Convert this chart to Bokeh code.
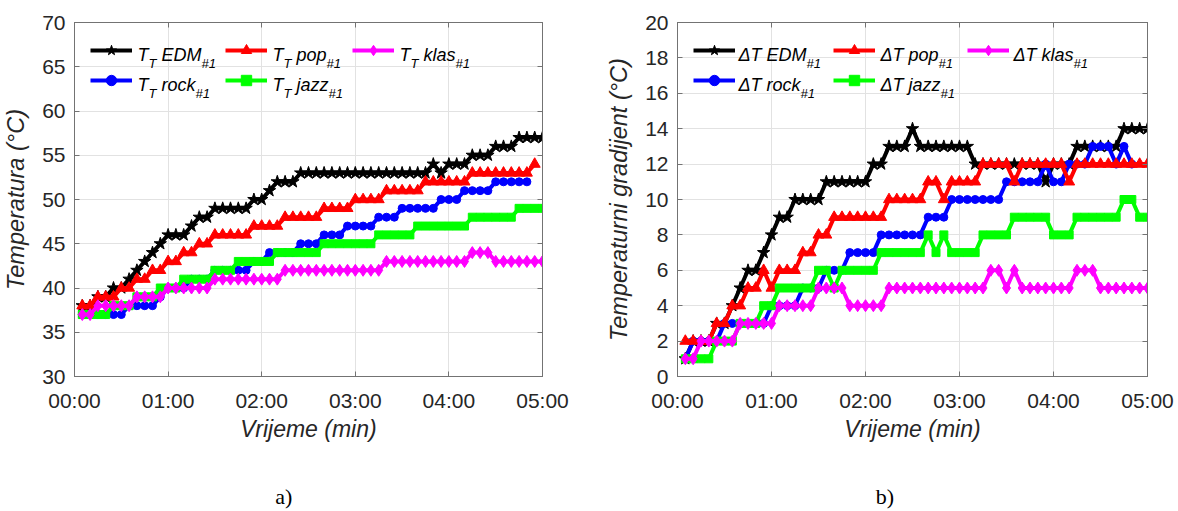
from bokeh.plotting import figure
from bokeh.layouts import row
from bokeh.models import Range1d, FixedTicker, LinearAxis, Label, Legend, LegendItem
from bokeh.embed import file_html
from bokeh.resources import INLINE

# ---------------- data ----------------
time_s = list(range(5, 305, 5))          # sampling instants (s), every 5 s

x_ticks = [0, 60, 120, 180, 240, 300]
x_tick_labels = ["00:00", "01:00", "02:00", "03:00", "04:00", "05:00"]
left_y_ticks = [30, 35, 40, 45, 50, 55, 60, 65, 70]
right_y_ticks = [0, 2, 4, 6, 8, 10, 12, 14, 16, 18, 20]

# a) temperature T_T (deg C)
T_edm = [38, 38, 39, 39, 40, 40, 41, 42, 43, 44,
         45, 46, 46, 46, 47, 48, 48, 49, 49, 49,
         49, 49, 50, 50, 51, 52, 52, 52, 53, 53,
         53, 53, 53, 53, 53, 53, 53, 53, 53, 53,
         53, 53, 53, 53, 53, 54, 53, 54, 54, 54,
         55, 55, 55, 56, 56, 56, 57, 57, 57, 57]
T_pop = [38, 38, 39, 39, 39, 40, 40, 41, 41, 42,
         42, 43, 43, 44, 44, 45, 45, 46, 46, 46,
         46, 46, 47, 47, 47, 47, 48, 48, 48, 48,
         48, 49, 49, 49, 49, 50, 50, 50, 50, 51,
         51, 51, 51, 51, 52, 52, 52, 52, 52, 52,
         53, 53, 53, 53, 53, 53, 53, 53, 54]
T_klas = [37, 37, 38, 38, 38, 38, 38, 39, 39, 39,
          39, 40, 40, 40, 40, 40, 40, 41, 41, 41,
          41, 41, 41, 41, 41, 41, 42, 42, 42, 42,
          42, 42, 42, 42, 42, 42, 42, 42, 42, 43,
          43, 43, 43, 43, 43, 43, 43, 43, 43, 43,
          44, 44, 44, 43, 43, 43, 43, 43, 43, 43]
T_rock = [37, 37, 37, 37, 37, 37, 38, 38, 38, 38,
          39, 40, 40, 40, 41, 41, 41, 42, 42, 42,
          42, 42, 43, 43, 44, 44, 44, 44, 45, 45,
          45, 46, 46, 46, 47, 47, 47, 47, 48, 48,
          48, 49, 49, 49, 49, 49, 50, 50, 50, 51,
          51, 51, 51, 52, 52, 52, 52, 52]
T_jazz = [37, 37, 37, 37, 38, 38, 38, 39, 39, 39,
          40, 40, 40, 41, 41, 41, 41, 42, 42, 42,
          43, 43, 43, 43, 43, 44, 44, 44, 44, 44,
          44, 45, 45, 45, 45, 45, 45, 45, 46, 46,
          46, 46, 46, 47, 47, 47, 47, 47, 47, 47,
          48, 48, 48, 48, 48, 48, 49, 49, 49, 49]

# b) temperature gradient dT (deg C)
dT_edm = [1, 2, 2, 2, 3, 3, 4, 5, 6, 6,
          7, 8, 9, 9, 10, 10, 10, 10, 11, 11,
          11, 11, 11, 11, 12, 12, 13, 13, 13, 14,
          13, 13, 13, 13, 13, 13, 13, 12, 12, 12,
          12, 12, 12, 12, 12, 12, 11, 12, 12, 12,
          13, 13, 13, 13, 13, 13, 14, 14, 14, 14]
dT_pop = [2, 2, 2, 2, 3, 3, 4, 4, 5, 5,
          6, 5, 6, 6, 6, 7, 7, 8, 8, 9,
          9, 9, 9, 9, 9, 9, 10, 10, 10, 10,
          10, 11, 11, 10, 11, 11, 11, 11, 12, 12,
          12, 12, 11, 12, 12, 12, 12, 12, 12, 11,
          12, 12, 12, 12, 12, 12, 12, 12, 12, 12]
dT_klas = [1, 1, 2, 2, 2, 2, 2, 3, 3, 3,
           3, 3, 4, 4, 4, 4, 4, 5, 5, 5,
           5, 4, 4, 4, 4, 4, 5, 5, 5, 5,
           5, 5, 5, 5, 5, 5, 5, 5, 5, 6,
           6, 5, 6, 5, 5, 5, 5, 5, 5, 5,
           6, 6, 6, 5, 5, 5, 5, 5, 5, 5]
dT_rock = [1, 2, 2, 2, 2, 3, 3, 3, 3, 3,
           3, 4, 4, 4, 4, 5, 5, 5, 6, 6,
           6, 7, 7, 7, 7, 8, 8, 8, 8, 8,
           8, 9, 9, 9, 10, 10, 10, 10, 10, 10,
           10, 11, 11, 11, 11, 11, 12, 11, 11, 12,
           12, 12, 13, 13, 13, 12, 13, 12]
dT_jazz = [1, 1, 1, 1, 2, 2, 2, 3, 3, 3,
           4, 4, 5, 5, 5, 5, 5, 6, 6, 5,
           6, 6, 6, 6, 6, 7, 7, 7, 7, 7,
           7, 8, 7, 8, 7, 7, 7, 7, 8, 8,
           8, 8, 9, 9, 9, 9, 9, 8, 8, 8,
           9, 9, 9, 9, 9, 9, 10, 10, 9, 9]

# ---------------- style ----------------
FONT = "Liberation Sans"
TEXT_COLOR = "#262626"
FRAME_COLOR = "#737373"
GRID_COLOR = "#e2e2e2"
FIG_H = 511
FRAME_H = 354
BORDER_TOP = 22

STYLE = {
    "EDM": ("#000000", "star", 13),
    "rock": ("#0000ff", "circle", 8),
    "pop": ("#ff0000", "triangle", 11),
    "jazz": ("#00ff00", "square", 8),
    "klas": ("#ff00ff", "diamond", 12),
}
PLOT_ORDER = ["EDM", "rock", "pop", "jazz", "klas"]
LEGEND_COLS = [["EDM", "rock"], ["pop", "jazz"], ["klas"]]

CHAR_W = {" ": .278, "T": .611, "E": .667, "D": .722, "M": .833, "p": .556,
          "o": .556, "k": .5, "l": .222, "a": .556, "s": .5, "r": .333,
          "c": .5, "j": .222, "z": .5, "\u0394": .668, "#": .556, "1": .556}

MAIN_FS = 18
SUB_FS = 13


def text_w(s, size):
    return sum(CHAR_W.get(c, .556) for c in s) * size


def style_axis(ax, label_standoff, axis_standoff, label_fs):
    ax.axis_line_color = FRAME_COLOR
    ax.major_tick_line_color = FRAME_COLOR
    ax.major_tick_in = 5
    ax.major_tick_out = 0
    ax.minor_tick_line_color = None
    ax.major_label_text_font = FONT
    ax.major_label_text_font_size = "21px"
    ax.major_label_text_color = TEXT_COLOR
    ax.major_label_standoff = label_standoff
    ax.axis_label_text_font = FONT
    ax.axis_label_text_font_size = label_fs
    ax.axis_label_text_font_style = "italic"
    ax.axis_label_text_color = TEXT_COLOR
    ax.axis_label_standoff = axis_standoff


def tick_only_axis(ticks):
    return LinearAxis(ticker=FixedTicker(ticks=ticks), axis_line_color=FRAME_COLOR,
                      major_tick_line_color=FRAME_COLOR, major_tick_in=5, major_tick_out=0,
                      minor_tick_line_color=None, major_label_text_font_size="1px",
                      major_label_text_color=None, major_label_standoff=0)


def letter_axis(letter, pad):
    # carries the panel letter "a)" / "b)" as an axis title under the x axis
    return LinearAxis(ticker=FixedTicker(ticks=[]), axis_label=letter + "\u00a0" * pad,
                      axis_line_color=None, major_tick_line_color=None,
                      minor_tick_line_color=None, major_label_text_font_size="1px",
                      major_label_text_color=None, major_label_standoff=0,
                      axis_label_standoff=39, axis_label_text_font="Liberation Serif",
                      axis_label_text_font_size="22px", axis_label_text_font_style="normal",
                      axis_label_text_color="#000000")


def make_panel(series, y_lo, y_hi, y_ticks, y_label, width, b_left, b_right,
               letter, letter_pad, glyph_x, text_x, delta):
    p = figure(width=width, height=FIG_H, x_range=Range1d(0, 300), y_range=Range1d(y_lo, y_hi),
               output_backend="svg", toolbar_location=None,
               min_border_left=b_left, min_border_right=b_right,
               min_border_top=BORDER_TOP, min_border_bottom=FIG_H - BORDER_TOP - FRAME_H,
               background_fill_color="white", border_fill_color="white")
    p.outline_line_color = FRAME_COLOR
    p.xaxis.ticker = FixedTicker(ticks=x_ticks)
    p.xaxis.major_label_overrides = {t: s for t, s in zip(x_ticks, x_tick_labels)}
    p.yaxis.ticker = FixedTicker(ticks=y_ticks)
    p.xgrid.ticker = FixedTicker(ticks=x_ticks)
    p.ygrid.ticker = FixedTicker(ticks=y_ticks)
    p.xaxis.axis_label = "Vrijeme (min)"
    p.yaxis.axis_label = y_label
    style_axis(p.xaxis[0], 12, 1, "23px")
    style_axis(p.yaxis[0], 9, 10, "23.5px")
    for g in (p.xgrid[0], p.ygrid[0]):
        g.grid_line_color = GRID_COLOR
        g.grid_line_width = 1
    p.add_layout(tick_only_axis(y_ticks), "right")
    p.add_layout(tick_only_axis(x_ticks), "above")
    p.add_layout(letter_axis(letter, letter_pad), "below")

    rends = {}
    for g in PLOT_ORDER:
        color, marker, size = STYLE[g]
        vals = series[g]
        xs = time_s[:len(vals)]
        r_l = p.line(xs, vals, line_color=color, line_width=4)
        r_s = p.scatter(xs, vals, marker=marker, size=size, fill_color=color, line_color=color)
        rends[g] = [r_l, r_s]

    # legend: glyph samples through Bokeh legends (one per column), texts as labels
    row_h, row_gap, top_gap = 26, 4, 15
    for ci, col in enumerate(LEGEND_COLS):
        n = len(col)
        leg_h = n * row_h + (n - 1) * row_gap
        items = [LegendItem(label=" ", renderers=rends[g]) for g in col]
        leg = Legend(items=items, location=(glyph_x[ci], FRAME_H - top_gap - leg_h),
                     orientation="vertical", padding=0, margin=0, spacing=row_gap,
                     glyph_width=42, glyph_height=row_h, label_width=0, label_standoff=0,
                     label_height=10, label_text_font_size="1px", label_text_color=None,
                     border_line_color=None, background_fill_alpha=0)
        p.add_layout(leg, "center")
        for ri, g in enumerate(col):
            base = FRAME_H - 32 - (row_h + row_gap) * ri
            if delta:
                parts = [("\u0394T " + g, False, 0), ("#1", True, 0)]
            else:
                parts = [("T", False, 0), ("T", True, 0), (g, False, text_w(" ", MAIN_FS)),
                         ("#1", True, 0)]
            x = text_x[ci]
            for txt, sub, gap in parts:
                fs = SUB_FS if sub else MAIN_FS
                x += gap
                p.add_layout(Label(x=x, y=base - (9 if sub else 0), x_units="screen",
                                   y_units="screen", text=txt, text_font=FONT,
                                   text_font_style="italic", text_font_size=f"{fs}px",
                                   text_color="#000000", text_baseline="alphabetic",
                                   text_align="left"))
                x += text_w(txt, fs)
    return p


left = make_panel({"EDM": T_edm, "pop": T_pop, "klas": T_klas, "rock": T_rock, "jazz": T_jazz},
                  30, 70, left_y_ticks, "Temperatura (\u00b0C)", 600, 72, 58, "a)", 9,
                  [16, 151, 278], [63, 198, 325], False)
right = make_panel({"EDM": dT_edm, "pop": dT_pop, "klas": dT_klas, "rock": dT_rock, "jazz": dT_jazz},
                   0, 20, right_y_ticks, "Temperaturni gradijent (\u00b0C)", 578, 77, 31, "b)", 10,
                   [16, 156, 290], [61, 203, 336], True)

layout = row(left, right)
open("out.html", "w").write(file_html(layout, INLINE))
